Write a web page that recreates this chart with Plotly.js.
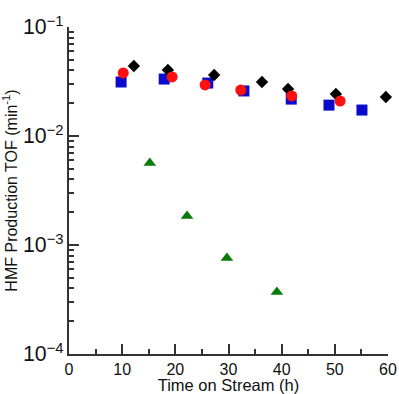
<!DOCTYPE html>
<html>
<head>
<meta charset="utf-8">
<script src="https://cdn.plot.ly/plotly-3.0.1.min.js"></script>
<style>
  html, body { margin: 0; padding: 0; background: #fff; }
  #plot { width: 399px; height: 394px; }
</style>
</head>
<body>
<div id="plot"></div>
<script>
// HMF production turnover frequency vs. time on stream, four catalyst runs
const squareTime = [9.8, 17.9, 26.1, 32.9, 41.8, 48.9, 55.1];
const squareTOF  = [0.0313, 0.0333, 0.0306, 0.0259, 0.0218, 0.0192, 0.0173];

const diamondTime = [12.2, 18.6, 27.3, 36.3, 41.2, 50.2, 59.6];
const diamondTOF  = [0.0439, 0.0403, 0.0363, 0.0313, 0.0270, 0.0243, 0.0228];

const circleTime = [10.2, 19.4, 25.6, 32.3, 41.9, 51.0];
const circleTOF  = [0.0379, 0.0348, 0.0294, 0.0264, 0.0233, 0.0209];

const triangleTime = [15.2, 22.2, 29.7, 39.1];
const triangleTOF  = [0.00565, 0.00185, 0.00076, 0.000371];

const xTickVals = [0, 10, 20, 30, 40, 50, 60];

function series(x, y, symbol, color, size) {
  return {
    x: x, y: y, type: 'scatter', mode: 'markers', showlegend: false,
    cliponaxis: false,
    marker: { symbol: symbol, color: color, size: size, line: { width: 0 } }
  };
}

const data = [
  series(squareTime, squareTOF, 'square', '#0a0acc', 11),
  series(diamondTime, diamondTOF, 'diamond', '#000000', 9.5),
  series(circleTime, circleTOF, 'circle', '#ff1010', 11),
  series(triangleTime, triangleTOF, 'triangle-up', '#0a7a0a', 11)
];

const fam = 'Liberation Sans, Arial, sans-serif';
const tickFont = { family: fam, size: 16, color: '#111' };
const tickColor = '#333333';

const layout = {
  width: 399, height: 394,
  margin: { l: 69, r: 11, t: 27, b: 40 },
  paper_bgcolor: '#fff', plot_bgcolor: '#fff',
  font: tickFont,
  xaxis: {
    range: [0, 60],
    tickmode: 'array', tickvals: xTickVals,
    ticks: 'inside', ticklen: 10, tickwidth: 2, tickcolor: tickColor,
    minor: { dtick: 5, ticks: 'inside', ticklen: 5, tickwidth: 2, tickcolor: tickColor },
    showline: true, linecolor: tickColor, linewidth: 2,
    showgrid: false, zeroline: false,
    tickfont: tickFont,
    title: { text: 'Time on Stream (h)', font: { family: fam, size: 16.5, color: '#111' }, standoff: 0 }
  },
  yaxis: {
    type: 'log',
    range: [-4, -1],
    dtick: 1,
    exponentformat: 'power',
    ticks: 'inside', ticklen: 10, tickwidth: 2, tickcolor: tickColor,
    minor: { ticks: 'inside', ticklen: 5, tickwidth: 2, tickcolor: tickColor },
    showline: true, linecolor: tickColor, linewidth: 2,
    showgrid: false, zeroline: false,
    tickfont: { family: fam, size: 17, color: '#111' },
    title: { text: 'HMF Production TOF (min<sup>-1</sup>)', font: { family: fam, size: 16, color: '#111' }, standoff: 2 }
  }
};

Plotly.newPlot('plot', data, layout, { displayModeBar: false, staticPlot: true });
</script>
</body>
</html>
